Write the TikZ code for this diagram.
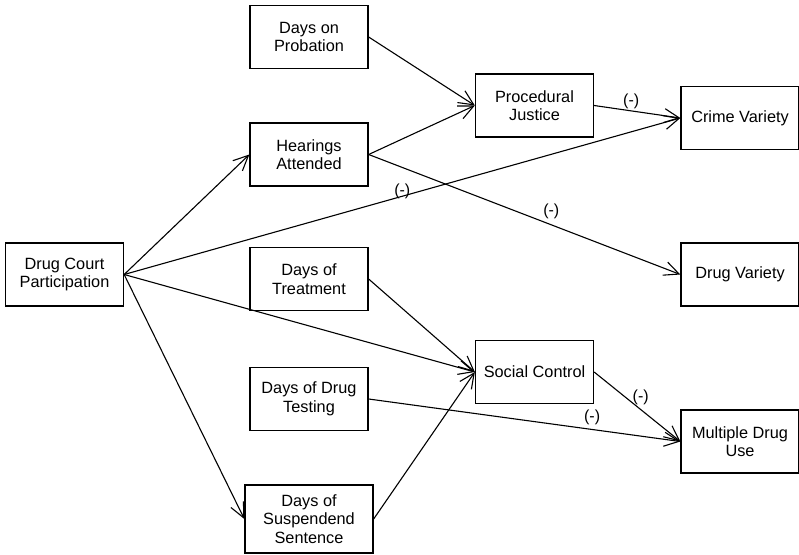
\documentclass[tikz,border=0pt]{standalone}
\usepackage{fontspec}
\setmainfont{Liberation Sans}
\usetikzlibrary{arrows.meta}
\begin{document}
\begin{tikzpicture}[x=1pt,y=-1pt,
	box/.style={draw, line width=1.3pt, align=center, minimum width=118pt, minimum height=63pt, inner sep=2pt, font=\fontsize{16.3}{18.5}\selectfont},
	link/.style={line width=1.1pt, -{Straight Barb[length=15pt,width=14pt,line width=1.1pt]}},
	sign/.style={font=\fontsize{16}{18}\selectfont, inner sep=1pt}]
					\useasboundingbox (0,0) rectangle (799,554);
					%Variabili 
					\node [box] (dcp) at (64.5,274.5) {Drug Court\\Participation};
					\node [box] (prob) at (309,37) {Days on\\Probation};
					\node [box] (hear) at (309,154.5) {Hearings\\Attended};
					\node [box] (treat) at (309,279) {Days of\\Treatment};
					\node [box] (test) at (309,399) {Days of Drug\\Testing};
					\node [box, minimum width=128pt, minimum height=68pt] (susp) at (309,519) {Days of\\Suspendend\\Sentence};
					\node [box] (pj) at (534.5,105.5) {Procedural\\Justice};
					\node [box] (sc) at (534.5,372) {Social Control};
					\node [box] (cv) at (740,118) {Crime Variety};
					\node [box] (dv) at (740,274.5) {Drug Variety};
					\node [box] (mdu) at (740,441.5) {Multiple Drug\\Use};
					%Frecce 
					\draw [link] (dcp.east) -- (hear.west);
					\draw [link] (dcp.east) -- (cv.west) node [sign, pos=0.5, above=-4pt] {(-)};
					\draw [link] (dcp.east) -- (sc.west);
					\draw [link] (dcp.east) -- (susp.west);
					\draw [link] (prob.east) -- (pj.west);
					\draw [link] (hear.east) -- (pj.west);
					\draw [link] (hear.east) -- (dv.west) node [sign, pos=0.586, above=4pt] {(-)};
					\draw [link] (treat.east) -- (sc.west);
					\draw [link] (test.east) -- (mdu.west) node [sign, pos=0.717, above=3pt] {(-)};
					\draw [link] (susp.east) -- (sc.west);
					\draw [link] (pj.east) -- (cv.west) node [sign, pos=0.43, above=1pt] {(-)};
					\draw [link] (sc.east) -- (mdu.west) node [sign, pos=0.54, above=3pt] {(-)};
		\end{tikzpicture}
\end{document}
